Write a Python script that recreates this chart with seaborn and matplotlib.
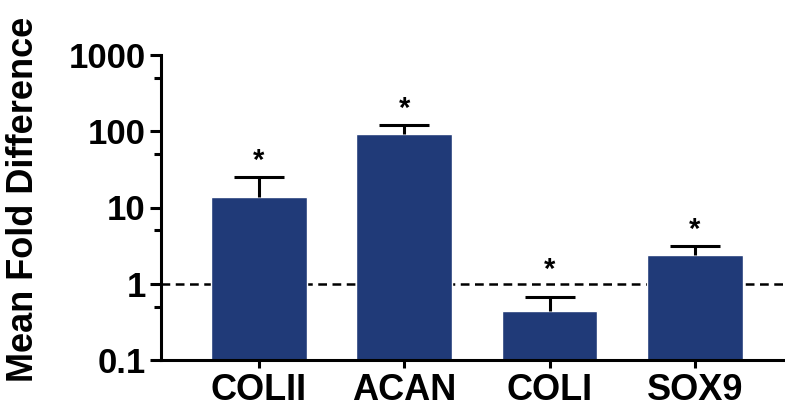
import numpy as np
import pandas as pd
import matplotlib
matplotlib.use("Agg")
import matplotlib.pyplot as plt
import seaborn as sns
from matplotlib.ticker import FixedLocator, FixedFormatter

genes = ["COLII", "ACAN", "COLI", "SOX9"]
mean_fold = [13.9, 91.0, 0.44, 2.35]
upper_err = [25.0, 120.0, 0.67, 3.15]
significant = [True, True, True, True]
ytick_vals = [0.1, 1, 10, 100, 1000]
ytick_labels = ["0.1", "1", "10", "100", "1000"]

sns.set_style("ticks")
plt.rcParams["font.family"] = ["Liberation Sans", "DejaVu Sans"]
plt.rcParams["font.weight"] = "bold"
for key in ["text.color", "axes.labelcolor", "xtick.color", "ytick.color", "axes.edgecolor"]:
    plt.rcParams[key] = "black"

bar_color = "#203A78"

df = pd.DataFrame({"gene": genes, "fold": mean_fold})

fig = plt.figure(figsize=(7.85, 4.08), dpi=100)
ax = fig.add_axes([161 / 785, 48 / 408, 1 - 161 / 785, (360 - 55) / 408])
ax.set_yscale("log")

sns.barplot(data=df, x="gene", y="fold", color=bar_color, width=0.66,
            saturation=1, errorbar=None, ax=ax, zorder=2)

# upper-only error bars (lower cap hidden)
x = np.arange(len(genes))
err = np.array(upper_err) - np.array(mean_fold)
eb = ax.errorbar(x, mean_fold, yerr=[np.zeros_like(err), err], fmt="none",
                 ecolor="black", elinewidth=2.2, capsize=18, capthick=2.2, zorder=3)
caplines = eb[1]
if len(caplines) == 2:
    caplines[0].set_visible(False)

# reference line at a fold difference of 1
ax.axhline(1, color="black", linestyle=(0, (3.5, 2.2)), linewidth=1.8, zorder=1)

# significance markers above the error bars
extra = [0, 0, 8, 0]
for xi, top, sig, ex in zip(x, upper_err, significant, extra):
    if sig:
        ax.annotate("*", (xi, top), xytext=(0, 11.5 + ex), textcoords="offset points",
                    ha="center", va="center", fontsize=21, fontweight="bold")

ax.set_ylim(0.1, 1000)
ax.set_xlim(-0.673, 3.62)
ax.yaxis.set_major_locator(FixedLocator(ytick_vals))
ax.yaxis.set_major_formatter(FixedFormatter(ytick_labels))
ax.yaxis.set_minor_locator(FixedLocator([0.5, 5, 50, 500]))
ax.yaxis.set_minor_formatter(FixedFormatter([]))

ax.tick_params(axis="y", which="major", length=8, width=2.2, labelsize=25, pad=3)
ax.tick_params(axis="y", which="minor", length=5, width=2.2)
ax.tick_params(axis="x", which="major", length=6, width=2.2, labelsize=26, pad=3)
for lab in ax.get_xticklabels() + ax.get_yticklabels():
    lab.set_fontweight("bold")

ax.set_xlabel("")
ax.set_ylabel("Mean Fold Difference", fontsize=26, fontweight="bold")
ax.yaxis.set_label_coords(-0.193, 0.528)

for s in ["top", "right"]:
    ax.spines[s].set_visible(False)
for s in ["left", "bottom"]:
    ax.spines[s].set_linewidth(2.2)

fig.savefig("out.png", dpi=100)
